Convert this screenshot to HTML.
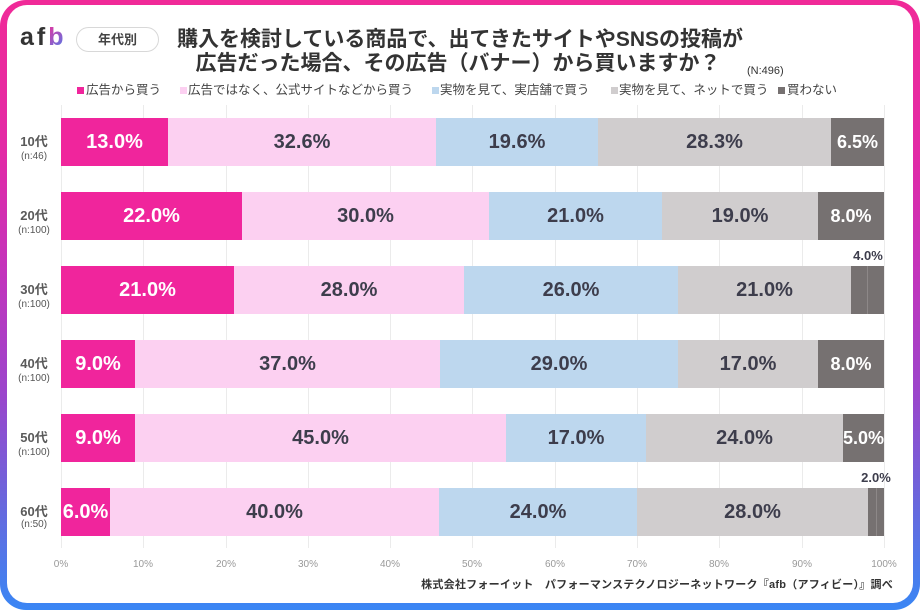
<!DOCTYPE html>
<html><head><meta charset="utf-8">
<style>
*{margin:0;padding:0;box-sizing:border-box}
body{width:920px;height:610px;background:#fff;overflow:hidden;font-family:"Liberation Sans","Noto Sans CJK JP",sans-serif;position:relative}
#frame{position:absolute;left:0;top:0;width:920px;height:610px;border-radius:26px;background:linear-gradient(180deg,#f02a98 0%,#e22aa6 25%,#c234bc 45%,#9a46cc 65%,#6a66dc 82%,#3a86f4 100%)}
#panel{position:absolute;left:7px;top:5px;width:906px;height:598px;border-radius:20px;background:#fff}
.a{position:absolute;white-space:nowrap}
.g{position:absolute;top:105px;height:443px;width:1px;background:#ebebeb}
.seg{position:absolute;height:48px;display:flex;align-items:center;justify-content:center;font-weight:bold;font-size:20px;color:#3d3d4c;white-space:nowrap;overflow:visible}
.c1{background:#f0259c;color:#fff}
.c2{background:#fcd0f1}
.c3{background:#bdd7ee}
.c4{background:#d0cdce}
.c5{background:#767171;color:#fff}
.age{position:absolute;width:60px;left:4px;text-align:center;font-size:13px;font-weight:bold;color:#5a5a5a;line-height:14px}
.n{position:absolute;width:60px;left:4px;text-align:center;font-size:10px;color:#555;line-height:12px}
.tick{position:absolute;top:559px;width:40px;text-align:center;font-size:10px;color:#999}
.lg{position:absolute;top:83px;font-size:12.5px;color:#444;line-height:14px;white-space:nowrap}
.sq{position:absolute;top:87px;width:7px;height:7px}
.title{position:absolute;left:0;width:920px;text-align:center;font-size:21px;font-weight:bold;color:#333;line-height:24px;white-space:nowrap}
</style></head><body>
<div id="frame"></div>
<div id="panel"></div>

<!-- logo -->
<div class="a" style="left:20px;top:22px;font-size:25px;font-weight:bold;color:#333;letter-spacing:3px;line-height:30px">af<span style="background:linear-gradient(135deg,#f0309a,#3a86f4);-webkit-background-clip:text;background-clip:text;color:transparent">b</span></div>
<div class="a" style="left:76px;top:27px;width:83px;height:25px;border:1px solid #d8d8d8;border-radius:13px;text-align:center;font-size:13px;line-height:23px;color:#444;font-weight:bold">年代別</div>

<div class="title" style="top:28px">購入を検討している商品で、出てきたサイトやSNSの投稿が</div>
<div class="title" style="top:52px;left:-2px">広告だった場合、その広告（バナー）から買いますか？</div>
<div class="a" style="left:747px;top:65px;font-size:11px;color:#333">(N:496)</div>

<!-- legend -->
<div class="sq" style="left:77px;background:#f0259c"></div><div class="lg" style="left:86px">広告から買う</div>
<div class="sq" style="left:180px;background:#fcd0f1"></div><div class="lg" style="left:188px">広告ではなく、公式サイトなどから買う</div>
<div class="sq" style="left:432px;background:#bdd7ee"></div><div class="lg" style="left:440px">実物を見て、実店舗で買う</div>
<div class="sq" style="left:611px;background:#d0cdce"></div><div class="lg" style="left:619px">実物を見て、ネットで買う</div>
<div class="sq" style="left:778px;background:#767171"></div><div class="lg" style="left:787px">買わない</div>

<!-- gridlines -->
<div class="g" style="left:61px"></div>
<div class="g" style="left:143px"></div>
<div class="g" style="left:226px"></div>
<div class="g" style="left:308px"></div>
<div class="g" style="left:390px"></div>
<div class="g" style="left:472px"></div>
<div class="g" style="left:555px"></div>
<div class="g" style="left:637px"></div>
<div class="g" style="left:719px"></div>
<div class="g" style="left:802px"></div>
<div class="g" style="left:884px"></div>

<!-- 10代 -->
<div class="age" style="top:135px">10代</div><div class="n" style="top:151px">(n:46)</div>
<div class="seg c1" style="top:118px;left:61px;width:107px">13.0%</div>
<div class="seg c2" style="top:118px;left:168px;width:268px">32.6%</div>
<div class="seg c3" style="top:118px;left:436px;width:162px">19.6%</div>
<div class="seg c4" style="top:118px;left:598px;width:233px">28.3%</div>
<div class="seg c5" style="top:118px;left:831px;width:53px;font-size:18px">6.5%</div>

<!-- 20代 -->
<div class="age" style="top:209px">20代</div><div class="n" style="top:225px">(n:100)</div>
<div class="seg c1" style="top:192px;left:61px;width:181px">22.0%</div>
<div class="seg c2" style="top:192px;left:242px;width:247px">30.0%</div>
<div class="seg c3" style="top:192px;left:489px;width:173px">21.0%</div>
<div class="seg c4" style="top:192px;left:662px;width:156px">19.0%</div>
<div class="seg c5" style="top:192px;left:818px;width:66px;font-size:18px">8.0%</div>

<!-- 30代 -->
<div class="age" style="top:283px">30代</div><div class="n" style="top:299px">(n:100)</div>
<div class="seg c1" style="top:266px;left:61px;width:173px">21.0%</div>
<div class="seg c2" style="top:266px;left:234px;width:230px">28.0%</div>
<div class="seg c3" style="top:266px;left:464px;width:214px">26.0%</div>
<div class="seg c4" style="top:266px;left:678px;width:173px">21.0%</div>
<div class="seg c5" style="top:266px;left:851px;width:33px"></div>
<div class="a" style="top:266px;left:867px;width:1px;height:48px;background:#8d8888"></div>
<div class="a" style="top:248px;left:838px;width:60px;text-align:center;font-size:13px;font-weight:bold;color:#3d3d4c">4.0%</div>

<!-- 40代 -->
<div class="age" style="top:357px">40代</div><div class="n" style="top:373px">(n:100)</div>
<div class="seg c1" style="top:340px;left:61px;width:74px">9.0%</div>
<div class="seg c2" style="top:340px;left:135px;width:305px">37.0%</div>
<div class="seg c3" style="top:340px;left:440px;width:238px">29.0%</div>
<div class="seg c4" style="top:340px;left:678px;width:140px">17.0%</div>
<div class="seg c5" style="top:340px;left:818px;width:66px;font-size:18px">8.0%</div>

<!-- 50代 -->
<div class="age" style="top:431px">50代</div><div class="n" style="top:447px">(n:100)</div>
<div class="seg c1" style="top:414px;left:61px;width:74px">9.0%</div>
<div class="seg c2" style="top:414px;left:135px;width:371px">45.0%</div>
<div class="seg c3" style="top:414px;left:506px;width:140px">17.0%</div>
<div class="seg c4" style="top:414px;left:646px;width:197px">24.0%</div>
<div class="seg c5" style="top:414px;left:843px;width:41px;font-size:18px">5.0%</div>

<!-- 60代 -->
<div class="age" style="top:505px">60代</div><div class="n" style="top:519px">(n:50)</div>
<div class="seg c1" style="top:488px;left:61px;width:49px">6.0%</div>
<div class="seg c2" style="top:488px;left:110px;width:329px">40.0%</div>
<div class="seg c3" style="top:488px;left:439px;width:198px">24.0%</div>
<div class="seg c4" style="top:488px;left:637px;width:231px">28.0%</div>
<div class="seg c5" style="top:488px;left:868px;width:16px"></div>
<div class="a" style="top:488px;left:876px;width:1px;height:48px;background:#8d8888"></div>
<div class="a" style="top:470px;left:846px;width:60px;text-align:center;font-size:13px;font-weight:bold;color:#3d3d4c">2.0%</div>

<!-- ticks -->
<div class="tick" style="left:41px">0%</div>
<div class="tick" style="left:123px">10%</div>
<div class="tick" style="left:206px">20%</div>
<div class="tick" style="left:288px">30%</div>
<div class="tick" style="left:370px">40%</div>
<div class="tick" style="left:452px">50%</div>
<div class="tick" style="left:535px">60%</div>
<div class="tick" style="left:617px">70%</div>
<div class="tick" style="left:699px">80%</div>
<div class="tick" style="left:782px">90%</div>
<div class="tick" style="left:864px">100%</div>

<!-- footer -->
<div class="a" style="right:27px;top:578px;font-size:11px;font-weight:bold;color:#333;line-height:14px;letter-spacing:0.25px">株式会社フォーイット　パフォーマンステクノロジーネットワーク『afb（アフィビー）』調べ</div>
</body></html>
